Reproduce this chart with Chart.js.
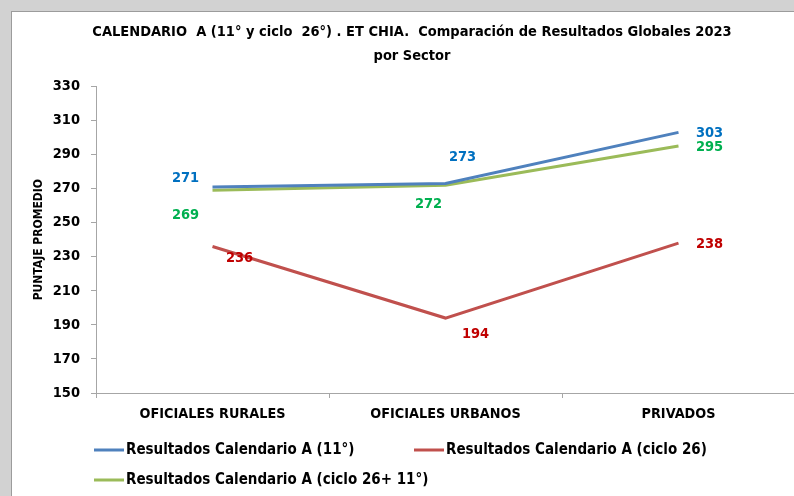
<!DOCTYPE html>
<html><head><meta charset="utf-8">
<script src="https://cdn.jsdelivr.net/npm/chart.js@4.4.1/dist/chart.umd.min.js"></script>
<style>
html,body{margin:0;padding:0;width:794px;height:496px;overflow:hidden;background:#d2d2d2;}
#frame{position:absolute;left:11px;top:11px;width:800px;height:485px;background:#fff;border-left:1px solid #9c9c9c;border-top:1px solid #9c9c9c;}
#wrap{position:absolute;left:0;top:0;width:800px;height:485px;}
</style></head>
<body>
<div id="frame"><div id="wrap"><canvas id="c"></canvas></div></div>
<script>
const categories = ["OFICIALES RURALES", "OFICIALES URBANOS", "PRIVADOS"];
const seriesNames = ["Resultados Calendario A (11°)", "Resultados Calendario A (ciclo 26)", "Resultados Calendario A (ciclo 26+ 11°)"];
const calA11 = [271, 273, 303];
const calACiclo26 = [236, 194, 238];
const calACiclo26y11 = [269, 272, 295];
const yTicks = [150, 170, 190, 210, 230, 250, 270, 290, 310, 330];
const titleLines = ["CALENDARIO  A (11° y ciclo  26°) . ET CHIA.  Comparación de Resultados Globales 2023", "por Sector"];
const yAxisTitle = "PUNTAJE PROMEDIO";

const FONT = "'Liberation Sans Narrow', 'Arial Narrow', 'DejaVu Sans Condensed', sans-serif";
const lineColors = ["#4F81BD", "#C0504D", "#9BBB59"];
const labelColors = ["#0070C0", "#C00000", "#00B050"];
// label offsets (px) relative to each point, per dataset
const labelOffsets = [
  [[-27,-9],[17,-26],[31,1]],
  [[27,12],[30,16],[31,1]],
  [[-27,25],[-17,19],[31,1]]
];

const dataLabelPlugin = {
  id: 'dataLabels',
  afterDatasetsDraw(chart) {
    const ctx = chart.ctx;
    ctx.save();
    ctx.font = "bold 14.5px " + FONT;
    ctx.textAlign = 'center';
    ctx.textBaseline = 'middle';
    chart.data.datasets.forEach((ds, i) => {
      const meta = chart.getDatasetMeta(i);
      meta.data.forEach((pt, j) => {
        const off = labelOffsets[i][j];
        ctx.fillStyle = labelColors[i];
        ctx.fillText(String(ds.data[j]), pt.x + off[0], pt.y + off[1]);
      });
    });
    ctx.restore();
  }
};

const legendPlugin = {
  id: 'customLegend',
  afterDraw(chart) {
    const ctx = chart.ctx;
    ctx.save();
    ctx.font = "bold 15px " + FONT;
    ctx.textAlign = 'left';
    ctx.textBaseline = 'middle';
    const pos = [[82, 438], [402, 438], [82, 468]];
    chart.data.datasets.forEach((ds, i) => {
      const [x, y] = pos[i];
      ctx.strokeStyle = ds.borderColor;
      ctx.lineWidth = 3;
      ctx.beginPath();
      ctx.moveTo(x, y);
      ctx.lineTo(x + 30, y);
      ctx.stroke();
      ctx.fillStyle = '#000';
      ctx.fillText(ds.label, x + 32, y);
    });
    ctx.restore();
  }
};

const datasets = [calA11, calACiclo26, calACiclo26y11].map((d, i) => ({
  label: seriesNames[i],
  data: d,
  borderColor: lineColors[i],
  backgroundColor: lineColors[i],
  borderWidth: 3,
  pointRadius: 0,
  tension: 0,
  fill: false
}));

new Chart(document.getElementById('c'), {
  type: 'line',
  data: { labels: categories, datasets },
  options: {
    responsive: true,
    maintainAspectRatio: false,
    animation: false,
    layout: { padding: { left: 17, right: 17, top: 0, bottom: 70 } },
    plugins: {
      legend: { display: false },
      tooltip: { enabled: false },
      title: {
        display: true,
        text: titleLines,
        color: '#000',
        font: { family: FONT, size: 14.5, weight: 'bold', lineHeight: 1.6 },
        padding: { top: 9, bottom: 19 }
      }
    },
    scales: {
      x: {
        offset: true,
        grid: { offset: true, drawOnChartArea: false, color: '#a6a6a6', tickLength: 5 },
        border: { color: '#a6a6a6', width: 1 },
        ticks: { color: '#000', font: { family: FONT, size: 14.3, weight: 'bold' }, padding: 8, maxRotation: 0 },
        afterFit(s) { s.height = 34; }
      },
      y: {
        min: 150, max: 330,
        afterBuildTicks(s) { s.ticks = yTicks.map(v => ({ value: v })); },
        grid: { drawOnChartArea: false, color: '#a6a6a6', tickLength: 5 },
        border: { color: '#a6a6a6', width: 1 },
        ticks: { color: '#000', font: { family: FONT, size: 14.5, weight: 'bold' }, padding: 11 },
        title: { display: true, text: yAxisTitle, color: '#000', font: { family: FONT, size: 12, weight: 'bold' }, padding: { top: 3, bottom: 0 } },
        afterFit(s) { s.width = 67; }
      }
    }
  },
  plugins: [dataLabelPlugin, legendPlugin]
});
</script>
</body></html>
